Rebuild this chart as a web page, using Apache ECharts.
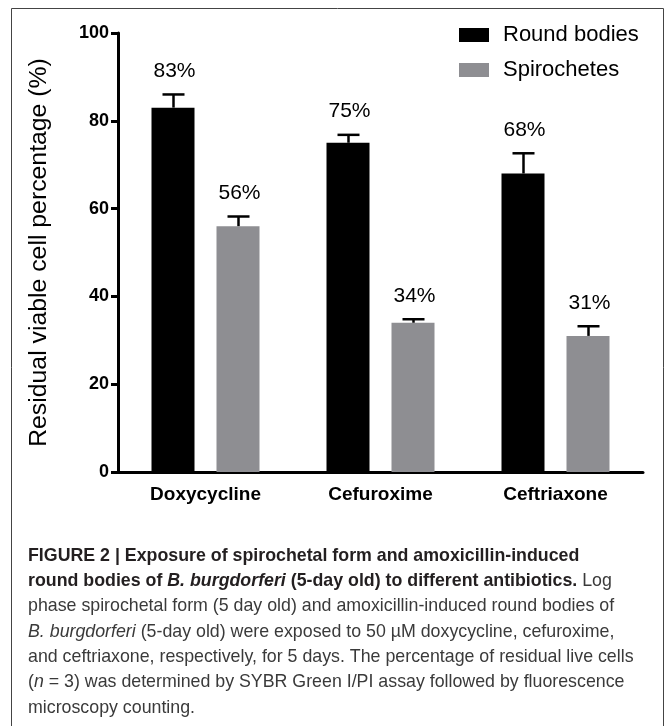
<!DOCTYPE html>
<html>
<head>
<meta charset="utf-8">
<script src="https://cdn.jsdelivr.net/npm/echarts@6/dist/echarts.min.js"></script>
<style>
html,body{margin:0;padding:0;background:#fff;}
#chart{width:670px;height:726px;}
</style>
</head>
<body>
<div id="chart"></div>
<script>
const categories = ['Doxycycline', 'Cefuroxime', 'Ceftriaxone'];
const seriesNames = ['Round bodies', 'Spirochetes'];
const roundBodies = [83, 75, 68];
const spirochetes = [56, 34, 31];
const roundBodiesErr = [3, 1.8, 4.6];
const spirochetesErr = [2.2, 0.8, 2.2];
const yTicks = [0, 20, 40, 60, 80, 100];
const yTitle = 'Residual viable cell percentage (%)';
const captionLines = [
  '{b|FIGURE 2 | Exposure of spirochetal form and amoxicillin-induced}',
  '{b|round bodies of }{bi|B. burgdorferi}{b| (5-day old) to different antibiotics.}{r| Log}',
  '{r|phase spirochetal form (5 day old) and amoxicillin-induced round bodies of}',
  '{i|B. burgdorferi}{r| (5-day old) were exposed to 50 \u00b5M doxycycline, cefuroxime,}',
  '{r|and ceftriaxone, respectively, for 5 days. The percentage of residual live cells}',
  '{r|(}{i|n}{r| = 3) was determined by SYBR Green I/PI assay followed by fluorescence}',
  '{r|microscopy counting.}'
];

const colors = ['#000000', '#8e8e92'];
const BAR_W = 43;
const BAR_GAP = 22;
const OFFSET = (BAR_W + BAR_GAP) / 2;
const FONT = '"Liberation Sans", Arial, Helvetica, sans-serif';
const CAP_FS = 17.8;

function errData(vals, errs) {
  return vals.map((v, i) => [i, v, errs[i]]);
}

function makeErr(sign) {
  return function (params, api) {
    const cat = api.value(0), v = api.value(1), e = api.value(2);
    const base = api.coord([cat, v]);
    const top = api.coord([cat, v + e]);
    const x = Math.round(base[0] + sign * OFFSET) + 0.5;
    return {
      type: 'group',
      children: [
        {type: 'line', shape: {x1: x, y1: base[1], x2: x, y2: top[1]}, style: {stroke: '#000', lineWidth: 2.5}},
        {type: 'line', shape: {x1: x - 11, y1: top[1], x2: x + 11, y2: top[1]}, style: {stroke: '#000', lineWidth: 2.5}},
        {type: 'text', style: {text: v + '%', x: x + 1, y: top[1] - 13, align: 'center', verticalAlign: 'bottom',
          fontSize: 21, fontFamily: FONT, fill: '#000'}}
      ]
    };
  };
}

const captionGraphics = captionLines.map((t, i) => ({
  type: 'text',
  left: 28,
  top: 547 + i * 25.3,
  style: {
    text: t,
    fontSize: CAP_FS,
    fontFamily: FONT,
    fill: '#333',
    rich: {
      b: {fontSize: CAP_FS, fontFamily: FONT, fontWeight: 'bold', fill: '#231f20'},
      bi: {fontSize: CAP_FS, fontFamily: FONT, fontWeight: 'bold', fontStyle: 'italic', fill: '#231f20'},
      r: {fontSize: CAP_FS, fontFamily: FONT, fill: '#3a3a3a'},
      i: {fontSize: CAP_FS, fontFamily: FONT, fontStyle: 'italic', fill: '#3a3a3a'}
    }
  }
}));

const chart = echarts.init(document.getElementById('chart'), null, {renderer: 'canvas'});
chart.setOption({
  backgroundColor: '#fff',
  animation: false,
  textStyle: {fontFamily: FONT},
  grid: {left: 118, right: 27, top: 33, bottom: 254, containLabel: false},
  legend: {
    data: seriesNames,
    orient: 'vertical',
    left: 454,
    top: 19,
    itemWidth: 30,
    itemHeight: 14,
    itemGap: 13,
    icon: 'rect',
    textStyle: {fontSize: 22, color: '#000', fontFamily: FONT, padding: [0, 0, 0, 9]},
    selectedMode: false
  },
  xAxis: {
    type: 'category',
    data: categories,
    axisLine: {lineStyle: {color: '#000', width: 3}},
    axisTick: {alignWithLabel: true, length: 9, lineStyle: {color: '#000', width: 3}},
    axisLabel: {fontSize: 19, fontWeight: 'bold', color: '#000', margin: 13, fontFamily: FONT}
  },
  yAxis: {
    type: 'value',
    min: yTicks[0],
    max: yTicks[yTicks.length - 1],
    interval: yTicks[1] - yTicks[0],
    name: yTitle,
    nameLocation: 'middle',
    nameGap: 66,
    nameTextStyle: {fontSize: 24.8, color: '#000', fontFamily: FONT},
    axisLine: {show: true, lineStyle: {color: '#000', width: 3}},
    axisTick: {show: true, length: 7, lineStyle: {color: '#000', width: 3}},
    axisLabel: {fontSize: 18, fontWeight: 'bold', color: '#000', margin: 9, fontFamily: FONT},
    splitLine: {show: false}
  },
  series: [
    {name: seriesNames[0], type: 'bar', data: roundBodies, barWidth: BAR_W, barGap: (BAR_GAP / BAR_W * 100) + '%',
      itemStyle: {color: colors[0]}},
    {name: seriesNames[1], type: 'bar', data: spirochetes, barWidth: BAR_W,
      itemStyle: {color: colors[1]}},
    {type: 'custom', renderItem: makeErr(-1), data: errData(roundBodies, roundBodiesErr), encode: {x: 0, y: 1}, z: 5},
    {type: 'custom', renderItem: makeErr(1), data: errData(spirochetes, spirochetesErr), encode: {x: 0, y: 1}, z: 5}
  ],
  graphic: [
    {type: 'rect', shape: {x: 11.5, y: 8.5, width: 652, height: 740}, style: {fill: 'none', stroke: '#444', lineWidth: 1}, silent: true}
  ].concat(captionGraphics)
});
</script>
</body>
</html>
